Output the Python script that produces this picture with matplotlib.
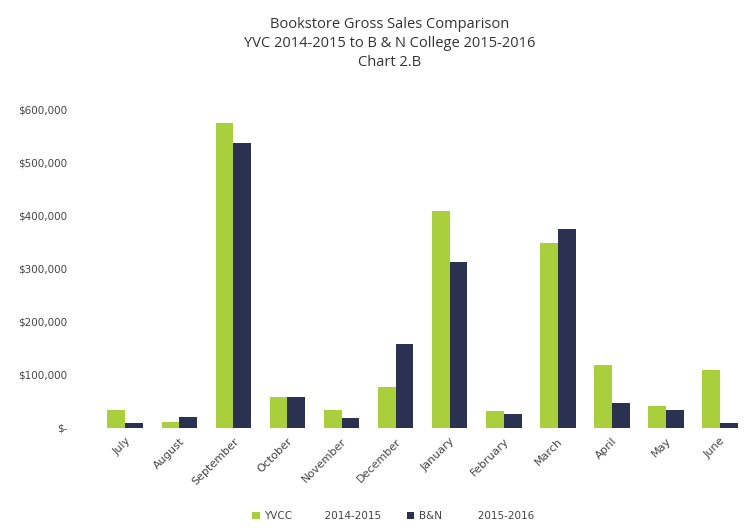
import numpy as np
import matplotlib.pyplot as plt
from matplotlib.ticker import FuncFormatter

# Monthly gross sales
months = ["July", "August", "September", "October", "November", "December",
          "January", "February", "March", "April", "May", "June"]
yvcc = [34000, 11000, 575000, 57000, 34000, 77000,
        409000, 32000, 349000, 119000, 40000, 108000]
bn = [8000, 20000, 538000, 57000, 19000, 158000,
      313000, 26000, 375000, 47000, 34000, 9000]

green = '#a9cf3c'
navy = '#2b3150'

fig = plt.figure(figsize=(7.56, 5.28), dpi=100)
ax = fig.add_axes([0.13, 0.19, 0.858, 0.602])

x = np.arange(len(months))
w = 0.33
ax.bar(x - w / 2, yvcc, w, color=green, label='YVCC          2014-2015')
ax.bar(x + w / 2, bn, w, color=navy, label='B&N           2015-2016')

ax.set_xlim(-0.5, len(months) - 0.5)
ax.set_ylim(0, 600000)
ax.set_yticks(np.arange(0, 600001, 100000))


def money(v, pos):
    if v == 0:
        return '$-'
    return '${:,.0f}'.format(v)


ax.yaxis.set_major_formatter(FuncFormatter(money))
ax.set_xticks(x)
ax.set_xticklabels(months, rotation=45, ha='right', rotation_mode='anchor')
ax.tick_params(axis='both', length=0, labelsize=8, labelcolor='#444444')
ax.tick_params(axis='y', pad=22, labelsize=7.5)
ax.tick_params(axis='x', pad=6)
for s in ax.spines.values():
    s.set_visible(False)

fig.text(0.515, 0.968, 'Bookstore Gross Sales Comparison\nYVC 2014-2015 to B & N College 2015-2016\nChart 2.B',
         ha='center', va='top', fontsize=10.5, color='#333333', linespacing=1.35,
         family='Open Sans')

fig.legend(loc='lower center', bbox_to_anchor=(0.52, -0.005), ncol=2, frameon=False,
           fontsize=7.5, handlelength=0.7, handleheight=0.7, columnspacing=2.5,
           handletextpad=0.4, labelcolor='#444444')

fig.savefig('out.png', dpi=100)
